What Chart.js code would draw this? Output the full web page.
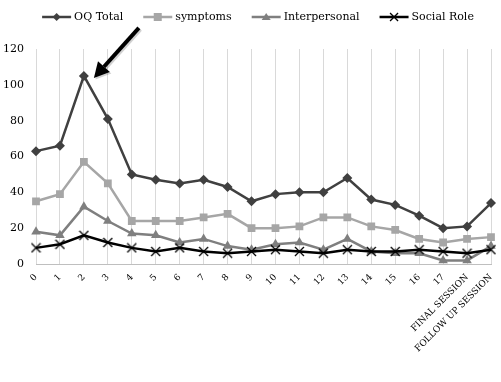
<!DOCTYPE html>
<html>
<head>
<meta charset="utf-8">
<script src="https://cdn.jsdelivr.net/npm/chart.js@4.4.1/dist/chart.umd.min.js"></script>
<style>
html,body{margin:0;padding:0;background:#fff;}
#wrap{width:501px;height:382px;position:relative;}
</style>
</head>
<body>
<div id="wrap"><canvas id="c" width="501" height="382"></canvas></div>
<script>
const categories = ["0","1","2","3","4","5","6","7","8","9","10","11","12","13","14","15","16","17","FINAL SESSION","FOLLOW UP SESSION"];
const oqTotal      = [63, 66, 105, 81, 50, 47, 45, 47, 43, 35, 39, 40, 40, 48, 36, 33, 27, 20, 21, 34];
const symptoms     = [35, 39, 57, 45, 24, 24, 24, 26, 28, 20, 20, 21, 26, 26, 21, 19, 14, 12, 14, 15];
const interpersonal= [18, 16, 32, 24, 17, 16, 12, 14, 10, 8, 11, 12, 8, 14, 7, 6, 6, 2, 2, 10];
const socialRole   = [9, 11, 16, 12, 9, 7, 9, 7, 6, 7, 8, 7, 6, 8, 7, 7, 8, 7, 6, 8];
const yTicks = [0, 20, 40, 60, 80, 100, 120];
const arrowIndex = 2;

const FONT = "'DejaVu Serif', serif";

function crossStyle(size, color, lw){
  const c = document.createElement('canvas');
  c.width = size; c.height = size;
  const g = c.getContext('2d');
  g.strokeStyle = color; g.lineWidth = lw;
  g.beginPath();
  g.moveTo(1,1); g.lineTo(size-1,size-1);
  g.moveTo(size-1,1); g.lineTo(1,size-1);
  g.stroke();
  return c;
}

const series = [
  {label:'OQ Total', data: oqTotal, color:'#404040', style:'rectRot', r:5, order:4},
  {label:'symptoms', data: symptoms, color:'#a6a6a6', style:'rect', r:5.5, order:3},
  {label:'Interpersonal', data: interpersonal, color:'#7f7f7f', style:'triangle', r:5.5, order:2},
  {label:'Social Role', data: socialRole, color:'#000000', style:'cross', r:5, order:1}
];

const datasets = series.map(s => ({
  label: s.label,
  data: s.data,
  borderColor: s.color,
  backgroundColor: s.color,
  borderWidth: 2.5,
  pointStyle: s.style === 'cross' ? crossStyle(11, '#000', 1.3) : s.style,
  pointRadius: s.r,
  pointBorderWidth: 0,
  pointBackgroundColor: s.color,
  pointBorderColor: s.color,
  tension: 0,
  order: s.order
}));

const legendPlugin = {
  id: 'customLegend',
  afterDraw(chart){
    const ctx = chart.ctx;
    ctx.save();
    ctx.font = "11px " + FONT;
    ctx.textBaseline = 'middle';
    const sample = 29, gapText = 3, gapItem = 20, y = 17;
    let total = 0;
    const widths = series.map(s => ctx.measureText(s.label).width);
    widths.forEach((w,i)=>{ total += sample + gapText + w + (i<widths.length-1?gapItem:0); });
    let x = 258 - total/2;
    series.forEach((s,i)=>{
      ctx.strokeStyle = s.color; ctx.lineWidth = 2.5;
      ctx.beginPath(); ctx.moveTo(x, y); ctx.lineTo(x+sample, y); ctx.stroke();
      const cx = x + sample/2;
      ctx.fillStyle = s.color;
      if (s.style === 'rectRot'){
        ctx.beginPath(); ctx.moveTo(cx, y-4); ctx.lineTo(cx+4, y); ctx.lineTo(cx, y+4); ctx.lineTo(cx-4, y); ctx.closePath(); ctx.fill();
      } else if (s.style === 'rect'){
        ctx.fillRect(cx-4, y-4, 8, 8);
      } else if (s.style === 'triangle'){
        ctx.beginPath(); ctx.moveTo(cx, y-4); ctx.lineTo(cx+4.5, y+3); ctx.lineTo(cx-4.5, y+3); ctx.closePath(); ctx.fill();
      } else {
        ctx.strokeStyle = '#000'; ctx.lineWidth = 1.3;
        ctx.beginPath(); ctx.moveTo(cx-4,y-4); ctx.lineTo(cx+4,y+4); ctx.moveTo(cx+4,y-4); ctx.lineTo(cx-4,y+4); ctx.stroke();
      }
      ctx.fillStyle = '#000';
      ctx.textAlign = 'left';
      ctx.fillText(s.label, x + sample + gapText, y + 0.5);
      x += sample + gapText + widths[i] + gapItem;
    });
    ctx.restore();
  }
};

const arrowPlugin = {
  id: 'arrow',
  afterDatasetsDraw(chart){
    const xs = chart.scales.x, ys = chart.scales.y;
    const px = xs.getPixelForValue(arrowIndex);
    const py = ys.getPixelForValue(oqTotal[arrowIndex]);
    const tip = {x: px + 10, y: py + 2};
    const tail = {x: px + 55, y: py - 48};
    const ctx = chart.ctx;
    const ang = Math.atan2(tip.y - tail.y, tip.x - tail.x);
    const headLen = 15, headW = 8;
    const bx = tip.x - headLen*Math.cos(ang), by = tip.y - headLen*Math.sin(ang);
    const draw = (color, off) => {
      ctx.save();
      ctx.translate(off, off);
      ctx.strokeStyle = color; ctx.fillStyle = color;
      ctx.lineWidth = 4; ctx.lineCap = 'butt';
      ctx.beginPath(); ctx.moveTo(tail.x, tail.y); ctx.lineTo(bx, by); ctx.stroke();
      ctx.beginPath();
      ctx.moveTo(tip.x, tip.y);
      ctx.lineTo(bx + headW*Math.sin(ang), by - headW*Math.cos(ang));
      ctx.lineTo(bx - headW*Math.sin(ang), by + headW*Math.cos(ang));
      ctx.closePath(); ctx.fill();
      ctx.restore();
    };
    draw('rgba(0,0,0,0.18)', 1.5);
    draw('#000', 0);
  }
};

new Chart(document.getElementById('c'), {
  type: 'line',
  data: { labels: categories, datasets },
  options: {
    responsive: false,
    animation: false,
    devicePixelRatio: 1,
    layout: { padding: { top: 49, right: 10, left: 0, bottom: 0 } },
    plugins: { legend: { display: false }, tooltip: { enabled: false } },
    scales: {
      x: {
        type: 'category',
        offset: false,
        grid: { display: true, color: '#d9d9d9', lineWidth: 1, drawTicks: false },
        border: { display: true, color: '#bfbfbf', width: 1 },
        ticks: {
          autoSkip: false, minRotation: 45, maxRotation: 45,
          padding: 8,
          color: '#000',
          font: { family: FONT, size: 9 }
        },
        afterFit(scale){ scale.height = 118; scale.paddingRight = 0; scale.paddingLeft = 0; }
      },
      y: {
        min: 0, max: 120,
        afterBuildTicks(scale){ scale.ticks = yTicks.map(v => ({value: v})); },
        grid: { display: false, drawTicks: false },
        border: { display: false },
        ticks: {
          padding: 12,
          color: '#000',
          font: { family: FONT, size: 11 }
        },
        afterFit(scale){ scale.width = 36; scale.paddingTop = 0; scale.paddingBottom = 0; }
      }
    }
  },
  plugins: [legendPlugin, arrowPlugin]
});
</script>
</body>
</html>
